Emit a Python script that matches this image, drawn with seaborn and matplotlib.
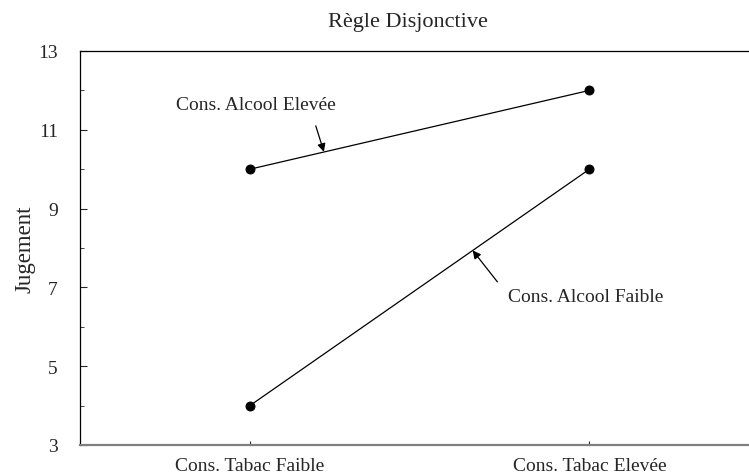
import matplotlib
matplotlib.use("Agg")
import matplotlib.pyplot as plt
import pandas as pd
import seaborn as sns

tabac = ["Cons. Tabac Faible", "Cons. Tabac Elevée"]
alcool_eleve = [10, 12]
alcool_faible = [4, 10]
title = "Règle Disjonctive"

df = pd.DataFrame({
    "tabac": tabac * 2,
    "jugement": alcool_eleve + alcool_faible,
    "alcool": ["Cons. Alcool Elevée"] * 2 + ["Cons. Alcool Faible"] * 2,
})

sns.set_style("white")
plt.rcParams["font.family"] = ["Liberation Serif", "DejaVu Serif"]

fig = plt.figure(figsize=(7.49, 4.77), dpi=100)
ax = fig.add_axes([0.107, 0.065, 0.893, 0.826])

sns.pointplot(
    data=df, x="tabac", y="jugement", hue="alcool",
    palette=["black", "black"], markersize=6.5, linewidth=0.9,
    legend=False, ax=ax,
)

ax.set_xlim(-0.5, 1.47)
ax.set_ylim(3, 13)
ax.set_yticks([3, 5, 7, 9, 11, 13])
ax.set_yticks([4, 6, 8, 10, 12], minor=True)
ax.tick_params(axis="both", which="both", direction="in", labelsize=14,
               left=True, bottom=True, right=False, top=False)
ax.tick_params(axis="y", which="major", length=5, pad=16)
ax.tick_params(axis="y", which="minor", length=3)
ax.tick_params(axis="x", length=3, pad=9)
ax.set_xlabel("")
ax.set_ylabel("Jugement", fontsize=16.5, labelpad=2)

ax.spines["right"].set_visible(False)
ax.spines["top"].set_color("black")
ax.spines["top"].set_linewidth(0.9)
ax.spines["left"].set_color("black")
ax.spines["left"].set_linewidth(0.9)
ax.spines["bottom"].set_color("#808080")
ax.spines["bottom"].set_linewidth(1.6)

# labels and arrows pointing at each line
ax.text(0.018, 11.63, "Cons. Alcool Elevée", fontsize=14, ha="center", va="center")
ax.annotate("", xy=(0.218, 10.44), xytext=(0.194, 11.1),
            arrowprops=dict(arrowstyle="-|>", color="black", lw=0.9,
                            shrinkA=0, shrinkB=0, mutation_scale=12))
ax.text(0.988, 6.78, "Cons. Alcool Faible", fontsize=14, ha="center", va="center")
ax.annotate("", xy=(0.656, 7.94), xytext=(0.729, 7.14),
            arrowprops=dict(arrowstyle="-|>", color="black", lw=0.9,
                            shrinkA=0, shrinkB=0, mutation_scale=12))

fig.text(0.545, 0.953, title, fontsize=16, ha="center", va="center")

fig.savefig("out.png", dpi=100)
